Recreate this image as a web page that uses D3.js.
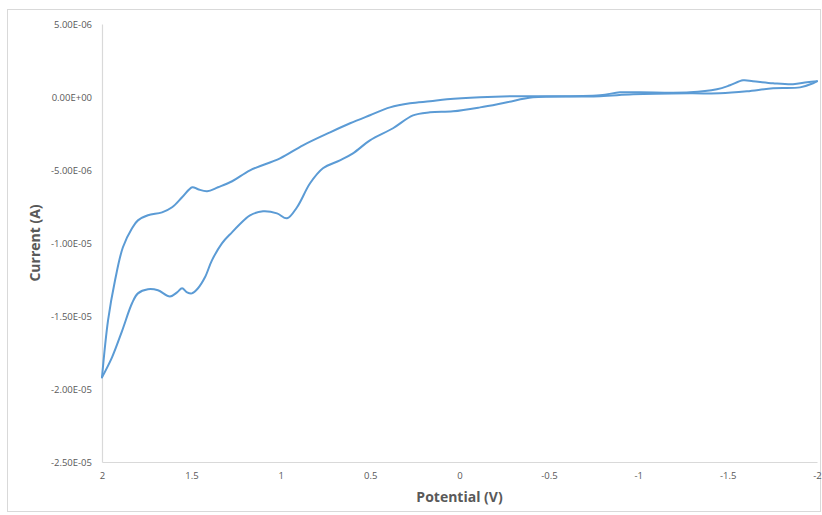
<!DOCTYPE html>
<html><head><meta charset="utf-8">
<script src="https://cdn.jsdelivr.net/npm/d3@7"></script>
<style>
html,body{margin:0;padding:0;background:#fff;}
text{font-family:"Liberation Sans Narrow","Open Sans",Lato,sans-serif;}
</style></head>
<body>
<svg id="chart" width="822" height="515"></svg>
<script>
// Potential (V) and current (µA) for the two branches of the voltammogram
const upperV = [2.000,1.966,1.927,1.883,1.832,1.799,1.743,1.664,1.608,1.552,1.495,1.463,1.412,1.351,1.272,1.172,1.004,0.876,0.724,0.612,0.501,0.389,0.277,0.165,0.070,-0.115,-0.299,-0.450,-0.786,-0.898,-1.010,-1.289,-1.440,-1.513,-1.586,-1.642,-1.754,-1.866,-1.944,-2.000];
const upperI = [-19.20,-15.29,-12.55,-10.29,-8.99,-8.45,-8.10,-7.90,-7.55,-6.87,-6.18,-6.32,-6.46,-6.18,-5.77,-5.02,-4.20,-3.31,-2.42,-1.80,-1.25,-0.71,-0.43,-0.29,-0.16,-0.02,0.05,0.05,0.12,0.32,0.32,0.32,0.53,0.80,1.14,1.08,0.94,0.87,1.01,1.08];
const lowerV = [2.000,1.944,1.888,1.832,1.799,1.743,1.687,1.620,1.580,1.552,1.524,1.497,1.463,1.424,1.385,1.329,1.273,1.200,1.172,1.099,1.021,0.965,0.909,0.836,0.764,0.669,0.596,0.501,0.372,0.260,0.165,0.036,-0.115,-0.266,-0.411,-0.786,-0.971,-1.289,-1.457,-1.608,-1.754,-1.905,-1.978,-2.000];
const lowerI = [-19.20,-17.83,-16.03,-14.13,-13.45,-13.17,-13.24,-13.66,-13.38,-13.10,-13.38,-13.45,-13.10,-12.35,-11.19,-10.02,-9.27,-8.38,-8.10,-7.83,-7.97,-8.31,-7.55,-5.91,-4.88,-4.34,-3.86,-2.97,-2.14,-1.26,-1.05,-0.98,-0.71,-0.36,-0.02,0.05,0.18,0.25,0.25,0.39,0.60,0.66,0.94,1.08];
const xTicks = [2,1.5,1,0.5,0,-0.5,-1,-1.5,-2];
const yTicks = [5e-6,0,-5e-6,-1e-5,-1.5e-5,-2e-5,-2.5e-5];
const xTitle = "Potential (V)";
const yTitle = "Current (A)";

(function(){
const svg = d3.select("#chart");
const pLeft = 102, pRight = 817, pTop = 24, pBottom = 462;
const x = d3.scaleLinear().domain([2,-2]).range([pLeft,pRight]);
const y = d3.scaleLinear().domain([-2.5e-5,5e-6]).range([pBottom,pTop]);

// chart border
svg.append("rect").attr("x",7.5).attr("y",9.5).attr("width",813).attr("height",502)
  .attr("fill","none").attr("stroke","#d9d9d9").attr("stroke-width",1);

const fmtY = v => {
  if (v === 0) return "0.00E+00";
  const e = Math.floor(Math.log10(Math.abs(v)) + 1e-9);
  const m = v / Math.pow(10,e);
  const es = (e<0?"-":"+") + String(Math.abs(e)).padStart(2,"0");
  return m.toFixed(2) + "E" + es;
};

const yAxis = d3.axisLeft(y).tickValues(yTicks).tickFormat(fmtY).tickSize(0).tickPadding(10);
const gy = svg.append("g").attr("transform",`translate(${pLeft},0)`).call(yAxis);
gy.select(".domain").attr("stroke","#d9d9d9").attr("stroke-width",1.2);
gy.selectAll("text").attr("fill","#595959").style("font-size","9.5px");

const xAxis = d3.axisBottom(x).tickValues(xTicks).tickFormat(d => String(d)).tickSize(0).tickPadding(10);
const gx = svg.append("g").attr("transform",`translate(0,${pBottom})`).call(xAxis);
gx.select(".domain").attr("stroke","#d9d9d9").attr("stroke-width",1.2);
gx.selectAll("text").attr("fill","#595959").style("font-size","9.5px");

svg.append("text").attr("x",(pLeft+pRight)/2).attr("y",502).attr("text-anchor","middle")
  .attr("fill","#595959").style("font-size","14px").style("font-weight","bold")
  .style("font-family","'Open Sans',sans-serif").text(xTitle);
svg.append("text").attr("transform",`translate(40,${(pTop+pBottom)/2}) rotate(-90)`).attr("text-anchor","middle")
  .attr("fill","#595959").style("font-size","14px").style("font-weight","bold")
  .style("font-family","'Open Sans',sans-serif").text(yTitle);

const line = d3.line().x(d=>x(d[0])).y(d=>y(d[1]*1e-6)).curve(d3.curveCatmullRom.alpha(0.5));
[[upperV,upperI],[lowerV,lowerI]].forEach(([vs,is]) => {
  svg.append("path").datum(vs.map((v,i)=>[v,is[i]]))
    .attr("d",line).attr("fill","none").attr("stroke","#5b9bd5").attr("stroke-width",2)
    .attr("stroke-linejoin","round").attr("stroke-linecap","round");
});
})();
</script>
</body></html>
